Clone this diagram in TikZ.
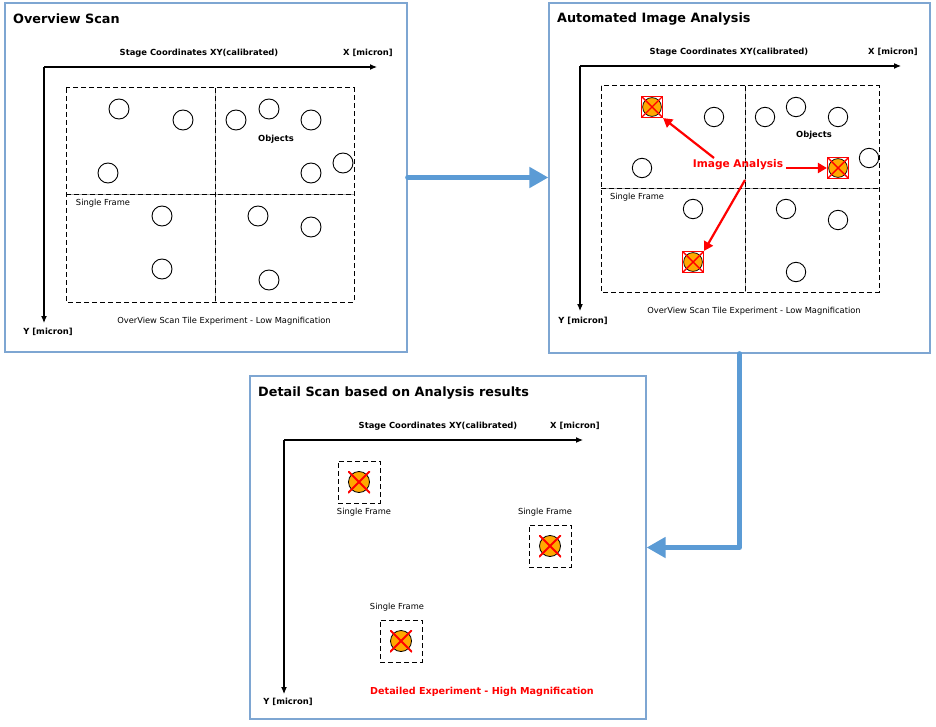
\documentclass[tikz,border=0pt]{standalone}
\usepackage{fontspec}
\setmainfont{DejaVu Sans}
\usetikzlibrary{arrows.meta}
\definecolor{boxblue}{RGB}{126,166,210}
\definecolor{flowblue}{RGB}{91,155,213}
\definecolor{hitorange}{RGB}{255,168,0}
\definecolor{hitred}{RGB}{255,0,0}
\begin{document}
\begin{tikzpicture}[x=1pt,y=-1pt,
  panel/.style={draw=boxblue, line width=1.3pt, rectangle, inner sep=0},
  title/.style={anchor=west, inner sep=0, font=\bfseries\fontsize{12.8}{14}\selectfont},
  lbl/.style={inner sep=0, font=\bfseries\fontsize{8.4}{10}\selectfont},
  lblr/.style={inner sep=0, font=\fontsize{8.3}{10}\selectfont},
  redlbl/.style={inner sep=0, text=hitred, font=\bfseries\fontsize{10.6}{12}\selectfont},
  axis/.style={line width=1.1pt, -{Latex[length=7pt,width=6pt]}},
  tile/.style={dash pattern=on 5pt off 3pt, line width=1pt},
  tileinner/.style={draw=black!35, line width=1pt},
  obj/.style={circle, draw, line width=0.9pt, minimum size=20pt, inner sep=0},
  objb/.style={circle, draw, line width=0.9pt, minimum size=19.4pt, inner sep=0},
  hitA/.style={rectangle, draw=hitred, line width=1.2pt, minimum size=21pt, inner sep=0,
    path picture={
      \fill[hitorange, draw=black, line width=0.7pt] (path picture bounding box.center) circle (9.4pt);
      \draw[hitred, line width=1.4pt] (path picture bounding box.south west) -- (path picture bounding box.north east)
        (path picture bounding box.north west) -- (path picture bounding box.south east);}},
  hitB/.style={rectangle, minimum size=22pt, inner sep=0,
    path picture={
      \fill[hitorange, draw=black, line width=0.8pt] (path picture bounding box.center) circle (10.5pt);
      \draw[hitred, line width=1.8pt] (path picture bounding box.south west) -- (path picture bounding box.north east)
        (path picture bounding box.north west) -- (path picture bounding box.south east);}},
  frame/.style={rectangle, dash pattern=on 5pt off 3pt, draw, line width=1pt, minimum size=42pt, inner sep=0},
  flow/.style={draw=flowblue, line width=5pt, line cap=round, line join=round, -{Triangle[length=19pt,width=20pt]}},
  redarrow/.style={draw=hitred, line width=2.2pt, -{Triangle[length=9pt,width=10pt]}}
]
\useasboundingbox (0,0) rectangle (936,727);
\fill[white] (0,0) rectangle (936,727);

% ---------- Panel 1 ----------
\node[panel, minimum width=402pt, minimum height=349pt] (p1) at (206,177.5) {};
\node[title] (t1) at (13,19) {Overview Scan};
\node[lbl] (sc1) at (199,53) {Stage Coordinates XY(calibrated)};
\node[lbl] (xl1) at (368,53) {X [micron]};
\node[lbl] (yl1) at (48,332) {Y [micron]};
\coordinate (o1) at (44,67);
\coordinate (xe1) at (377,67);
\coordinate (ye1) at (44,323);
\draw[axis] (o1) -- (xe1);
\draw[axis] (o1) -- (ye1);
\draw[tileinner] (215,88) -- (215,302) (66,195) -- (354,195);
\draw[tile] (66,88) rectangle (354,302);
\draw[tile] (215,88) -- (215,302) (66,195) -- (354,195);
\foreach \x/\y [count=\i] in {119/109,183/120,108/173,236/120,269/109,311/120,311/173,343/163,162/216,162/269,258/216,311/227,269/280}
  \node[obj] (a\i) at (\x,\y) {};
\node[lbl] (ob1) at (276,139) {Objects};
\node[lblr] (sf1) at (103,203) {Single Frame};
\node[lblr] (ov1) at (224,321) {OverView Scan Tile Experiment - Low Magnification};

% ---------- Panel 2 ----------
\node[panel, minimum width=381pt, minimum height=350pt] (p2) at (739.5,178) {};
\node[title] (t2) at (557,19) {Automated Image Analysis};
\node[lbl] (sc2) at (729,52) {Stage Coordinates XY(calibrated)};
\node[lbl] (xl2) at (893,52) {X [micron]};
\node[lbl] (yl2) at (583,321) {Y [micron]};
\coordinate (o2) at (580,66);
\coordinate (xe2) at (901,66);
\coordinate (ye2) at (580,311);
\draw[axis] (o2) -- (xe2);
\draw[axis] (o2) -- (ye2);
\draw[tileinner] (745,86) -- (745,292) (601,189) -- (879,189);
\draw[tile] (601,86) rectangle (879,292);
\draw[tile] (745,86) -- (745,292) (601,189) -- (879,189);
\foreach \x/\y [count=\i] in {714/117,642/168,765/117,796/107,838/117,869/158,693/209,786/209,838/220,796/272}
  \node[objb] (b\i) at (\x,\y) {};
\node[hitA] (h1) at (652,107) {};
\node[hitA] (h2) at (838,168) {};
\node[hitA] (h3) at (693,262) {};
\node[lbl] (ob2) at (814,135) {Objects};
\node[lblr] (sf2) at (637,197) {Single Frame};
\node[lblr] (ov2) at (754,311) {OverView Scan Tile Experiment - Low Magnification};
\node[redlbl] (ia) at (738,165) {Image Analysis};
\coordinate (ia1) at (714,158);
\coordinate (ia2) at (786,168);
\coordinate (ia3) at (745,180);
\draw[redarrow] (ia1) -- (h1.south east);
\draw[redarrow] (ia2) -- (h2.west);
\draw[redarrow] (ia3) -- (h3.north east);

% ---------- Panel 3 ----------
\node[panel, minimum width=396pt, minimum height=343pt] (p3) at (448,547.5) {};
\node[title] (t3) at (258,393) {Detail Scan based on Analysis results};
\node[lbl] (sc3) at (438,426) {Stage Coordinates XY(calibrated)};
\node[lbl] (xl3) at (575,426) {X [micron]};
\node[lbl] (yl3) at (288,702) {Y [micron]};
\coordinate (o3) at (284,440);
\coordinate (xe3) at (583,440);
\coordinate (ye3) at (284,694);
\draw[axis] (o3) -- (xe3);
\draw[axis] (o3) -- (ye3);
\node[frame] (f1) at (359,482) {};
\node[frame] (f2) at (550,546) {};
\node[frame] (f3) at (401,641) {};
\node[hitB] (d1) at (f1) {};
\node[hitB] (d2) at (f2) {};
\node[hitB] (d3) at (f3) {};
\node[lblr] (sf3a) at (364,512) {Single Frame};
\node[lblr] (sf3b) at (545,512) {Single Frame};
\node[lblr] (sf3c) at (397,607) {Single Frame};
\node[redlbl, font=\bfseries\fontsize{9.6}{11}\selectfont] (de) at (482,692) {Detailed Experiment - High Magnification};

% ---------- Flow arrows ----------
\draw[flow] (p1.east) -- (p1.east -| p2.west);
\draw[flow] (p2.south) |- (p3.east);
\end{tikzpicture}
\end{document}
